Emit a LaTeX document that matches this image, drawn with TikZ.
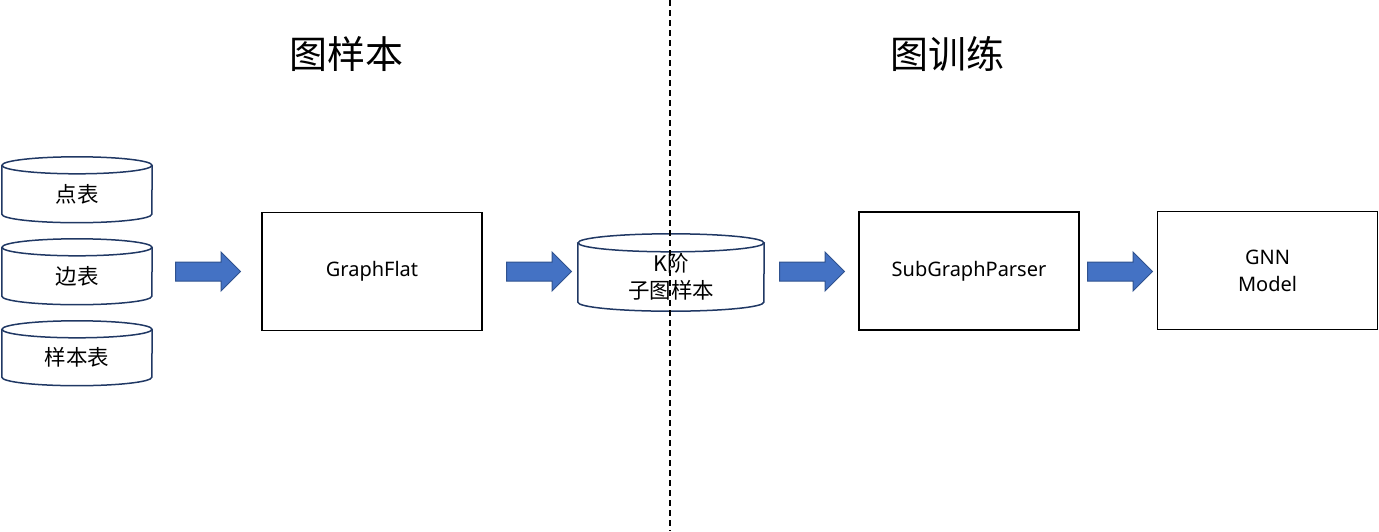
\documentclass[tikz,border=0pt]{standalone}
\usepackage{fontspec}
\setmainfont{Noto Sans}
\newfontfamily\cjk{Noto Sans CJK SC}
\usetikzlibrary{shapes.arrows}
\definecolor{tblline}{HTML}{203864}
\definecolor{arrfill}{HTML}{4472C4}
\definecolor{arrline}{HTML}{2F528F}

% outline of a table cylinder round node #1 (x radius #2, y radius #3)
\newcommand{\tblcyl}[3]{%
	\draw[tblline, line width=1.5pt] (#1.north) ellipse [x radius=#2pt, y radius=#3pt];
	\draw[tblline, line width=1.5pt] (#1.north west) -- ([yshift=#3pt]#1.south west)
		arc[start angle=180, end angle=360, x radius=#2pt, y radius=#3pt] -- (#1.north east);
}

\tikzset{
	tbl/.style={rectangle, inner sep=0pt, align=center, font=\cjk\fontsize{21.5}{27}\selectfont},
	procbox/.style={rectangle, draw=black, line width=1.5pt, minimum width=220pt, minimum height=118pt, inner sep=0pt, align=center, font=\fontsize{20}{27}\selectfont},
	blockarrow/.style={single arrow, anchor=tail, draw=arrline, fill=arrfill, line width=1pt, minimum height=65pt, minimum width=38pt, single arrow head extend=10pt, inner xsep=0pt, inner ysep=9pt},
	title/.style={font=\cjk\fontsize{38}{40}\selectfont}
}

\begin{document}
\begin{tikzpicture}[x=1pt,y=-1pt]
	\useasboundingbox (0,0) rectangle (1379,531);

	% titles
	\node (t1) [title] at (346,54) {图样本};
	\node (t2) [title] at (947,54) {图训练};

	% input tables
	\node (vtab) [tbl, minimum width=150pt, minimum height=57pt] at (77,194) {点表};
	\node (etab) [tbl, minimum width=150pt, minimum height=57pt] at (77,276) {边表};
	\node (stab) [tbl, minimum width=150pt, minimum height=56pt] at (77,357.5) {样本表};
	\tblcyl{vtab}{75}{8.5}
	\tblcyl{etab}{75}{8.5}
	\tblcyl{stab}{75}{8.5}

	% stages
	\node (flat) [procbox] at (372,271.5) {GraphFlat};
	\node (ksub) [tbl, minimum width=186pt, minimum height=68pt] at (671,277) {K阶\\子图样本};
	\tblcyl{ksub}{93}{9}
	\node (parser) [procbox] at (969,271) {SubGraphParser};
	\node (gnn) [procbox] at (1267.5,270.5) {GNN\\Model};

	% block arrows
	\node (a1) [blockarrow] at (175,271.5) {};
	\node (a2) [blockarrow] at (506,271.5) {};
	\node (a3) [blockarrow] at (779,271.5) {};
	\node (a4) [blockarrow] at (1087,271.5) {};

	% divider
	\coordinate (dtop) at (670,0);
	\coordinate (dbot) at (670,531);
	\draw[line width=1.5pt, dash pattern=on 6pt off 4pt] (dtop) -- (dbot);

\end{tikzpicture}
\end{document}
